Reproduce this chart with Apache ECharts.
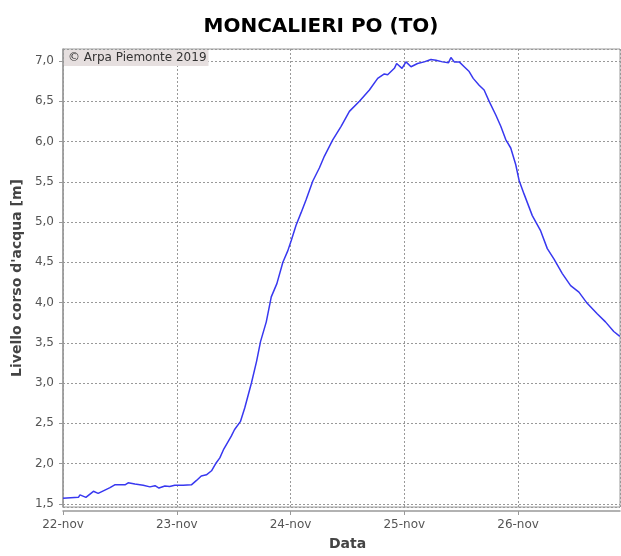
<!DOCTYPE html>
<html>
<head>
<meta charset="utf-8">
<script src="https://cdn.jsdelivr.net/npm/echarts@6/dist/echarts.min.js"></script>
<style>
  html, body { margin: 0; padding: 0; background: #fff; }
  #chart { width: 621px; height: 556px; }
</style>
</head>
<body>
<div id="chart"></div>
<script>
// Livello idrometrico
const startTime = '2019-11-22 00:00';
const endTime = '2019-11-26 21:30';

const times = [
    '2019-11-22 00:00', '2019-11-22 03:15', '2019-11-22 03:35', '2019-11-22 04:50',
    '2019-11-22 06:25', '2019-11-22 07:25', '2019-11-22 08:50', '2019-11-22 09:55',
    '2019-11-22 10:55', '2019-11-22 13:05', '2019-11-22 13:45', '2019-11-22 15:10',
    '2019-11-22 16:55', '2019-11-22 18:20', '2019-11-22 19:25', '2019-11-22 20:15',
    '2019-11-22 21:30', '2019-11-22 22:30', '2019-11-22 23:35', '2019-11-23 01:20',
    '2019-11-23 03:05', '2019-11-23 04:10', '2019-11-23 05:10', '2019-11-23 06:15',
    '2019-11-23 07:20', '2019-11-23 08:20', '2019-11-23 09:05', '2019-11-23 09:55',
    '2019-11-23 11:30', '2019-11-23 12:10', '2019-11-23 13:25', '2019-11-23 14:20',
    '2019-11-23 15:45', '2019-11-23 16:50', '2019-11-23 17:40', '2019-11-23 18:53',
    '2019-11-23 19:56', '2019-11-23 21:07', '2019-11-23 22:23', '2019-11-23 23:26',
    '2019-11-24 00:09', '2019-11-24 01:10', '2019-11-24 02:15', '2019-11-24 03:18',
    '2019-11-24 04:42', '2019-11-24 06:06', '2019-11-24 07:09', '2019-11-24 08:54',
    '2019-11-24 10:40', '2019-11-24 12:25', '2019-11-24 14:32', '2019-11-24 16:38',
    '2019-11-24 18:23', '2019-11-24 19:47', '2019-11-24 20:29', '2019-11-24 21:54',
    '2019-11-24 22:23', '2019-11-24 23:31', '2019-11-25 00:21', '2019-11-25 01:25',
    '2019-11-25 02:48', '2019-11-25 04:12', '2019-11-25 05:37', '2019-11-25 06:40',
    '2019-11-25 08:04', '2019-11-25 09:20', '2019-11-25 09:50', '2019-11-25 10:32',
    '2019-11-25 11:35', '2019-11-25 12:38', '2019-11-25 13:41', '2019-11-25 14:32',
    '2019-11-25 15:47', '2019-11-25 16:50', '2019-11-25 17:54', '2019-11-25 19:18',
    '2019-11-25 20:21', '2019-11-25 21:24', '2019-11-25 22:27', '2019-11-25 23:30',
    '2019-11-26 00:12', '2019-11-26 01:15', '2019-11-26 03:00', '2019-11-26 04:46',
    '2019-11-26 06:10', '2019-11-26 07:35', '2019-11-26 09:20', '2019-11-26 11:05',
    '2019-11-26 12:50', '2019-11-26 14:35', '2019-11-26 16:41', '2019-11-26 18:26',
    '2019-11-26 20:11', '2019-11-26 21:28'
];

const levels = [
    1.57, 1.58, 1.61, 1.58,
    1.655, 1.63, 1.67, 1.70,
    1.735, 1.735, 1.76, 1.745,
    1.73, 1.71, 1.725, 1.695,
    1.72, 1.715, 1.73, 1.73,
    1.735, 1.79, 1.845, 1.86,
    1.91, 2.01, 2.07, 2.18,
    2.34, 2.42, 2.52, 2.69,
    3.00, 3.27, 3.515, 3.76,
    4.07, 4.235, 4.50, 4.645,
    4.77, 4.96, 5.12, 5.28,
    5.51, 5.675, 5.82, 6.02,
    6.19, 6.375, 6.50, 6.64,
    6.785, 6.84, 6.83, 6.91,
    6.97, 6.91, 6.99, 6.93,
    6.97, 6.99, 7.02, 7.01,
    6.99, 6.98, 7.045, 6.99,
    6.99, 6.93, 6.87, 6.785,
    6.70, 6.64, 6.50, 6.33,
    6.19, 6.025, 5.92, 5.715,
    5.52, 5.35, 5.08, 4.89,
    4.67, 4.54, 4.36, 4.21,
    4.13, 3.99, 3.86, 3.76,
    3.64, 3.58
];

const dayLabels = ['22-nov', '23-nov', '24-nov', '25-nov', '26-nov'];

const fontName = 'DejaVu Sans';
const lineColor = '#3838f0';

// ore trascorse dall'inizio
function hoursFromStart(str) {
    const t0 = new Date(startTime.replace(' ', 'T') + ':00Z').getTime();
    const t = new Date(str.replace(' ', 'T') + ':00Z').getTime();
    return (t - t0) / 3600000;
}

const seriesData = times.map(function (t, i) {
    return [hoursFromStart(t), levels[i]];
});

const chart = echarts.init(document.getElementById('chart'), null, { renderer: 'canvas' });

const option = {
    backgroundColor: '#ffffff',
    animation: false,
    title: {
        text: 'MONCALIERI PO (TO)',
        left: 316,
        textAlign: 'center',
        top: 12,
        textStyle: {
            fontFamily: fontName,
            fontWeight: 'bold',
            fontSize: 20,
            color: '#000'
        }
    },
    grid: {
        left: 63,
        right: 1,
        top: 49,
        bottom: 47,
        show: true,
        borderColor: '#9a9a9a',
        borderWidth: 1,
        backgroundColor: '#fff'
    },
    graphic: [
        {
            type: 'text',
            left: 64,
            top: 50,
            z: 10,
            style: {
                text: '© Arpa Piemonte 2019',
                fontFamily: fontName,
                fontSize: 12,
                fill: '#333',
                backgroundColor: '#e6dfdf',
                padding: [2, 2, 2, 4]
            }
        }
    ],
    xAxis: {
        type: 'value',
        min: 0,
        max: hoursFromStart(endTime),
        interval: 24,
        offset: 4,
        name: 'Data',
        nameLocation: 'middle',
        nameGap: 26,
        nameTextStyle: {
            fontFamily: fontName,
            fontWeight: 'bold',
            fontSize: 14,
            color: '#444',
            padding: [0, 0, 0, 12]
        },
        axisLine: { lineStyle: { color: '#999', width: 1.5 } },
        axisTick: { show: true, length: 4, lineStyle: { color: '#999' } },
        axisLabel: {
            fontFamily: fontName,
            fontSize: 12,
            color: '#555',
            margin: 8,
            showMaxLabel: false,
            formatter: function (v) {
                const idx = Math.round(v / 24);
                return Math.abs(v - idx * 24) < 0.01 ? (dayLabels[idx] || '') : '';
            }
        },
        splitLine: {
            show: true,
            lineStyle: { color: '#999', type: [2, 2], width: 1 }
        }
    },
    yAxis: {
        type: 'value',
        min: 1.46,
        max: 7.15,
        splitNumber: 11,
        offset: 3,
        name: "Livello corso d'acqua [m]",
        nameLocation: 'middle',
        nameGap: 36,
        nameTextStyle: {
            fontFamily: fontName,
            fontWeight: 'bold',
            fontSize: 14,
            color: '#444'
        },
        axisLine: { show: true, lineStyle: { color: '#999', width: 1.5 } },
        axisTick: { show: true, length: 4, lineStyle: { color: '#999' } },
        axisLabel: {
            fontFamily: fontName,
            fontSize: 12,
            color: '#555',
            margin: 6,
            showMinLabel: false,
            showMaxLabel: false,
            formatter: function (v) {
                const r = Math.round(v * 2) / 2;
                return Math.abs(v - r) < 0.001 ? r.toFixed(1).replace('.', ',') : '';
            }
        },
        splitLine: {
            show: true,
            lineStyle: { color: '#999', type: [2, 2], width: 1 }
        }
    },
    series: [
        {
            name: 'Livello',
            type: 'line',
            data: seriesData,
            showSymbol: false,
            smooth: false,
            lineStyle: { color: lineColor, width: 1.5 }
        }
    ]
};

chart.setOption(option);
</script>
</body>
</html>
